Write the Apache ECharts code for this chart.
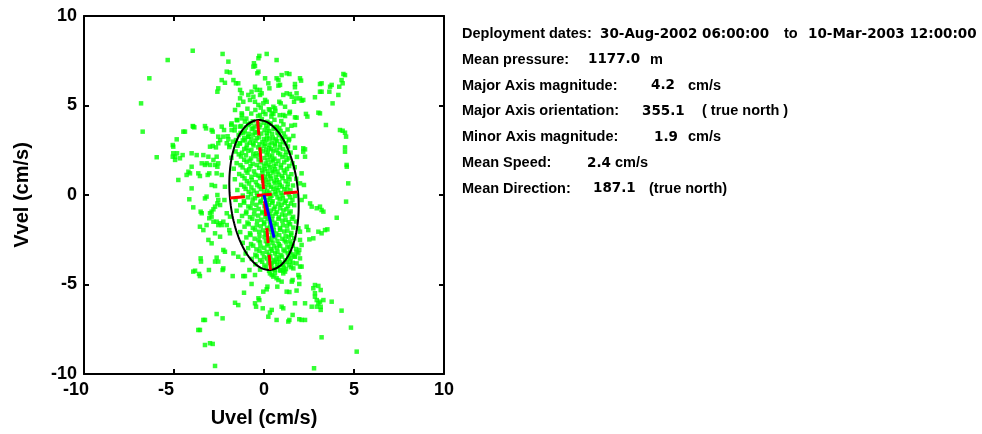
<!DOCTYPE html>
<html><head><meta charset="utf-8">
<script src="https://cdn.jsdelivr.net/npm/echarts@6/dist/echarts.min.js"></script>
<style>html,body{margin:0;padding:0;background:#fff}#c{width:982px;height:434px}</style>
</head><body><div id="c"></div>
<script>
// ---- axis settings ----
const axisMin = -10, axisMax = 10, axisStep = 5;
const xName = 'Uvel (cm/s)';
const yName = 'Vvel (cm/s)';

// ---- ellipse statistics (from the text block) ----
const majorAxis = 4.2;      // cm/s
const minorAxis = 1.9;      // cm/s
const orientationDeg = 355.1; // true north
const meanVector = [0.56, -2.38]; // end of blue mean-velocity line (u, v)

// ---- text block: each line is a list of text pieces ----
const infoLines = [
  ['Deployment dates:', '30-Aug-2002 06:00:00', 'to', '10-Mar-2003 12:00:00'],
  ['Mean pressure:', '1177.0', 'm'],
  ['Major Axis magnitude:', '4.2', 'cm/s'],
  ['Major Axis orientation:', '355.1', '( true north )'],
  ['Minor Axis magnitude:', '1.9', 'cm/s'],
  ['Mean Speed:', '2.4', 'cm/s'],
  ['Mean Direction:', '187.1', '(true north)']
];
// horizontal start (px) of each piece, layout only
const infoPieceX = [
  [462, 600, 784, 808],
  [462, 588, 650],
  [462, 651, 688],
  [462, 642, 702],
  [462, 654, 688],
  [462, 587, 615],
  [462, 593, 649]
];

// ---- velocity samples [u, v] (cm/s) ----
const outerUpper = [
[-3.96,8.06],[-5.35,7.54],[-2.3,7.88],[-6.37,6.52],[-6.83,5.12],[-6.74,3.54],
[-1.98,7.45],[-2.07,6.89],[-1.89,6.85],[-2.35,6.42],[-2.17,6.27],[-1.7,6.42],[-1.56,6.24],[-1.43,6.24],
[-2.54,5.96],[-2.59,5.77],[-1.33,5.87],[-1.24,5.68],[-1.33,5.4],[-1.15,5.21],[-0.87,5.59],[-1.61,4.75],
[-1.43,5.03],[-1.24,4.56],
[-3.87,3.78],[-3.96,3.85],[-3.28,3.85],[-3.22,3.72],[-4.48,3.54],[-4.39,3.54],[-2.85,3.54],[-4.85,3.11],[-5.04,2.7],
[-2.54,2.89],[-3.0,2.7],[-2.85,2.74],[-2.67,2.66],[-2.26,3.26],[-1.98,3.11],[-2.07,2.89],[-1.89,2.79],
[-2.35,3.82],[-2.22,3.63],[-2.54,3.26],[-2.44,3.07],[-2.91,3.63],[-5.07,2.79],[-3.93,3.82],
[-1.8,4.0],[-1.61,3.82],[-1.8,3.63],[-1.52,4.19],[-1.24,4.28],[-1.06,4.1],[-1.33,3.82],[-0.87,3.91],
[-1.15,3.45],[-0.87,3.26],[-1.06,3.07],[-1.33,2.89],[-1.56,3.07],
[0.15,7.88],[-0.26,7.77],[-0.31,7.64],[0.7,7.54],[-0.56,7.36],[-0.59,7.17],[-0.5,7.21],[-0.37,6.8],[-0.31,6.89],[0.06,6.52],
[0.7,6.52],[0.8,6.42],[0.98,6.7],[1.26,6.8],[1.41,6.76],[2.0,6.52],[2.06,6.39],[1.72,6.2],[1.72,6.02],[0.8,6.11],[0.89,6.15],[0.24,6.24],[0.3,5.96],
[1.07,5.59],[1.26,5.68],[1.44,5.64],[1.54,5.49],[1.81,5.68],[1.67,5.21],[1.78,5.4],[2.0,5.4],[2.09,5.27],[2.18,5.31],
[0.85,5.21],[0.93,5.12],[0.52,4.93],[0.61,4.84],[1.17,4.93],[1.44,4.65],[1.41,4.56],[1.07,4.47],[1.17,4.41],[0.43,4.56],[0.52,4.53],
[1.72,4.34],[1.81,4.32],[2.33,4.53],[2.41,4.38],[2.83,5.46],[3.02,4.6],[3.11,4.56],[3.11,6.2],[3.2,6.24],[3.11,5.77],[3.2,5.77],
[3.67,6.05],[3.76,6.15],[3.63,5.77],[3.81,5.12],[4.18,6.05],[4.13,5.59],[4.31,6.42],[4.37,6.24],[4.5,6.7],[4.41,6.76],
[3.44,3.91],[4.22,3.63],[4.37,3.59],[4.5,3.48],[4.56,3.26],[4.5,2.66],[1.72,3.91],[2.18,2.61],[2.28,2.55],
[-0.5,6.05],[-0.69,5.77],[-0.41,5.87],[-0.22,5.87],[-0.13,5.68],[-0.59,5.49],[-0.78,5.31],[-0.5,5.21],[-0.31,5.03],
[-0.04,5.12],[0.15,5.21],[-0.22,5.59],[0.06,5.31],[0.33,4.75],[-0.04,4.65],[-0.22,4.47]
];
const outerMiddle = [
[-5.96,2.11],[-5.04,2.33],[-4.94,2.14],[-4.67,2.05],[-4.52,2.23],[-4.02,2.33],[-4.76,0.84],[-4.2,1.3],[-4.11,1.21],[-4.3,1.12],[-4.02,1.58],[-3.65,1.21],[-3.56,1.06],
[-3.46,1.77],[-3.28,1.68],[-3.19,1.77],[-3.04,1.21],[-3.13,1.12],[-2.72,1.68],[-2.54,1.77],[-2.59,1.58],[-2.63,1.21],[-2.35,1.12],[-2.91,0.56],[-2.72,0.5],
[-4.02,0.37],[-4.15,-0.24],[-3.93,-0.69],[-3.52,-0.93],[-3.46,-1.02],[-3.28,-0.19],[-3.19,-0.09],[-3.04,-1.3],
[-2.91,-0.93],[-2.81,-0.8],[-2.72,-0.65],[-2.59,-0.47],[-2.44,-0.56],[-2.59,0.0],[-2.54,-0.28],[-2.17,0.46],[-2.2,-0.28],
[-2.81,-1.49],[-2.63,-1.49],[-2.44,-1.58],[-2.35,-1.68],[-2.54,-1.68],[-2.26,-1.49],[-2.07,-1.68],[-1.93,-1.96],[-1.89,-2.14],
[-3.74,2.23],[-3.37,2.23],[-3.09,2.14],[-3.0,1.68],[-2.81,1.96],[-2.63,2.14],[-4.83,2.33],[-5.07,2.14],[-4.94,1.96],
[-3.0,-1.02],[-2.91,-1.21],[-2.07,-1.02],[-1.89,-1.21],[-3.56,-1.77],[-3.37,-1.96],[-3.19,-1.68],[-2.72,-2.14],[-2.44,-2.33],
[-3.09,-2.51],[-2.91,-2.7],[-1.7,-3.26],[-1.43,-3.45],[-1.19,-3.63],[-2.26,-3.07],[-2.17,-3.17],[-2.63,-3.5],[-3.52,-3.54],
[2.18,2.42],[2.28,2.14],[2.09,1.21],[2.22,0.56],[2.56,-0.47],[2.65,-0.65],[2.93,-0.74],[3.11,-0.65],[3.2,-0.84],[3.3,-0.93],
[4.5,2.42],[4.59,1.68],[4.68,0.65],[4.56,-0.37],[4.04,-1.27],[2.37,-1.77],[2.46,-1.96],[3.02,-2.05],[3.2,-2.14],[3.39,-1.96],[3.52,-1.92],
[2.74,-2.42],[2.52,-2.48],[1.91,-1.86],[2.0,-2.05],[1.81,-3.17],[1.96,-3.07],[1.72,-3.45],
[2.28,-0.09],[2.09,-0.28],[2.0,-2.51],[2.09,-2.79],[1.91,-3.26],[2.0,-3.54],[2.09,-4.0],[4.6,1.58],[2.0,0.65]
];
const outerLower = [
[-3.5,-3.72],[-2.72,-3.72],[-2.54,-3.72],[-3.83,-4.23],[-3.93,-4.28],[-3.61,-4.41],[-3.56,-4.53],[-3.06,-4.19],[-2.26,-4.1],[-2.3,-4.19],
[-1.74,-4.53],[-1.15,-4.53],[-1.06,-4.53],[-0.81,-4.19],[-1.11,-5.46],[-1.61,-6.02],[-1.43,-6.15],[-2.63,-6.65],[-2.3,-6.89],[-3.37,-6.98],[-3.28,-6.98],
[-3.56,-7.54],[-3.65,-7.54],[-3.28,-8.38],[-3.0,-8.28],[-2.85,-8.32],[-2.72,-9.55],
[-0.5,-4.47],[-0.69,-4.97],[-0.04,-5.4],[0.15,-5.27],[0.19,-5.12],[-0.31,-5.77],[-0.26,-5.87],[-0.5,-6.05],[-0.44,-6.24],[-0.07,-6.33],
[0.43,-4.47],[0.52,-4.56],[0.7,-4.65],[0.61,-4.38],[0.8,-4.75],[0.98,-4.84],[0.74,-5.12],[1.17,-4.28],[1.07,-4.19],[1.59,-4.75],[1.54,-4.84],
[1.91,-4.47],[1.96,-4.6],[1.96,-4.97],[1.81,-5.34],[1.26,-5.4],[1.41,-5.42],[0.98,-6.24],[1.07,-6.33],[0.43,-6.42],[0.33,-6.57],[0.24,-6.8],[0.7,-6.98],
[1.41,-6.98],[1.35,-7.07],[1.59,-6.7],[1.72,-6.05],[1.96,-6.94],[2.09,-6.98],[2.28,-6.98],[2.28,-6.05],
[2.74,-5.21],[2.83,-5.03],[3.02,-5.08],[3.15,-5.31],[2.83,-5.49],[2.83,-5.68],[2.93,-5.87],[3.11,-5.96],[3.3,-5.87],[3.02,-6.05],[3.15,-6.24],[2.93,-6.24],
[2.65,-6.24],[3.15,-6.42],[3.76,-5.96],[4.31,-6.46],[4.83,-7.41],[3.2,-7.95],[5.15,-8.75],[2.78,-9.68],
[0.43,-3.82],[0.7,-3.72],[1.07,-3.91],[1.44,-3.72],[1.63,-4.1],[2.0,-4.0],[1.81,-3.82],[0.89,-4.19],[1.07,-4.38],[0.61,-4.19],[0.33,-4.38]
];
const coreSamples = [
[-0.92,4.82],[-0.48,4.75],[-0.18,4.88],[0.27,4.79],[0.63,4.7],
[-1.22,4.48],[-0.71,4.55],[-0.33,4.41],[0.08,4.52],[0.41,4.38],[0.87,4.46],
[-1.48,4.18],[-0.98,4.27],[-0.62,4.12],[-0.12,4.23],[0.19,4.09],[0.58,4.2],[0.96,4.13],
[-1.82,3.92],[-1.27,3.85],[-0.83,3.97],[-0.52,3.83],[-0.21,3.93],[0.12,3.86],[0.38,3.98],[0.71,3.81],[1.08,3.94],[1.52,3.87],
[-1.63,3.61],[-1.07,3.55],[-0.68,3.68],[-0.41,3.52],[0.03,3.63],[0.29,3.57],[0.53,3.7],[0.92,3.58],[1.31,3.66],
[-2.02,3.28],[-1.41,3.35],[-0.88,3.24],[-0.61,3.37],[-0.28,3.22],[0.17,3.31],[0.49,3.19],[0.82,3.34],[1.18,3.25],[1.63,3.3],
[-1.72,2.98],[-1.18,3.05],[-0.79,2.92],[-0.47,3.03],[-0.09,2.95],[0.14,3.08],[0.42,2.93],[0.73,3.02],[1.04,2.96],[1.38,3.06],
[-1.93,2.68],[-1.47,2.75],[-0.97,2.63],[-0.58,2.77],[-0.32,2.66],[0.02,2.73],[0.28,2.62],[0.61,2.76],[0.88,2.65],[1.33,2.71],[1.72,2.64],
[-1.58,2.43],[-1.22,2.36],[-0.87,2.47],[-0.42,2.33],[-0.07,2.44],[0.21,2.38],[0.52,2.46],[0.79,2.35],[1.23,2.42],[1.48,2.37],
[-1.81,2.08],[-1.28,2.15],[-0.72,2.04],[-0.48,2.17],[0.03,2.06],[0.31,2.14],[0.58,2.03],[1.02,2.12],[1.39,2.05],[1.83,2.13],
[-1.52,1.78],[-0.97,1.85],[-0.63,1.74],[-0.18,1.83],[0.09,1.76],[0.42,1.87],[0.68,1.73],[1.12,1.82],[1.58,1.77],
[-1.68,1.47],[-1.19,1.54],[-0.82,1.43],[-0.27,1.52],[0.04,1.45],[0.33,1.56],[0.62,1.44],[0.93,1.53],[1.28,1.46],[1.71,1.55],
[-1.38,1.17],[-0.92,1.24],[-0.48,1.13],[-0.08,1.22],[0.23,1.15],[0.52,1.26],[0.81,1.14],[1.18,1.23],[1.52,1.16],
[-1.62,0.88],[-1.08,0.93],[-0.68,0.84],[-0.22,0.95],[0.12,0.86],[0.38,0.92],[0.72,0.83],[1.03,0.94],[1.42,0.87],[1.79,0.91],
[-1.27,0.57],[-0.83,0.64],[-0.38,0.55],[0.02,0.63],[0.27,0.54],[0.63,0.66],[0.88,0.56],[1.32,0.62],[1.61,0.53],
[-1.48,0.28],[-1.02,0.34],[-0.58,0.25],[-0.17,0.33],[0.18,0.24],[0.52,0.35],[0.78,0.27],[1.13,0.32],[1.47,0.26],
[-1.18,-0.03],[-0.72,0.04],[-0.37,-0.05],[0.12,0.03],[0.42,-0.04],[0.68,0.05],[1.02,-0.02],[1.38,0.04],[1.72,-0.05],
[-1.58,-0.27],[-1.12,-0.34],[-0.63,-0.25],[-0.18,-0.33],[0.22,-0.26],[0.48,-0.35],[0.87,-0.24],[1.22,-0.32],[1.58,-0.28],
[-1.32,-0.57],[-0.87,-0.64],[-0.42,-0.55],[0.03,-0.63],[0.28,-0.56],[0.62,-0.65],[0.98,-0.54],[1.33,-0.62],[1.68,-0.57],
[-1.52,-0.88],[-0.98,-0.93],[-0.53,-0.85],[-0.08,-0.94],[0.38,-0.87],[0.72,-0.95],[1.08,-0.86],[1.48,-0.92],
[-1.22,-1.17],[-0.78,-1.24],[-0.32,-1.15],[0.08,-1.23],[0.47,-1.16],[0.83,-1.25],[1.18,-1.14],[1.62,-1.22],
[-1.38,-1.47],[-0.92,-1.54],[-0.38,-1.45],[0.02,-1.53],[0.32,-1.46],[0.58,-1.55],[1.02,-1.44],[1.37,-1.52],[1.78,-1.48],
[-1.08,-1.77],[-0.62,-1.84],[-0.18,-1.75],[0.17,-1.83],[0.52,-1.76],[0.88,-1.85],[1.28,-1.74],[1.63,-1.82],
[-1.32,-2.07],[-0.78,-2.14],[-0.27,-2.05],[0.08,-2.13],[0.42,-2.06],[0.68,-2.15],[1.12,-2.04],[1.52,-2.12],
[-0.98,-2.37],[-0.52,-2.44],[0.03,-2.35],[0.28,-2.43],[0.62,-2.36],[1.02,-2.45],[1.38,-2.34],[1.68,-2.42],
[-1.18,-2.67],[-0.72,-2.74],[-0.22,-2.65],[0.18,-2.73],[0.48,-2.66],[0.82,-2.75],[1.22,-2.64],[1.52,-2.72],
[-0.88,-2.97],[-0.42,-3.04],[0.02,-2.95],[0.38,-3.03],[0.72,-2.96],[1.08,-3.05],[1.42,-2.94],[1.78,-3.02],
[-1.02,-3.27],[-0.48,-3.34],[-0.08,-3.25],[0.28,-3.33],[0.62,-3.26],[0.92,-3.35],[1.32,-3.24],[1.58,-3.32],
[-0.68,-3.57],[-0.22,-3.64],[0.18,-3.55],[0.52,-3.63],[0.82,-3.56],[1.18,-3.65],[1.48,-3.54],
[-0.48,-3.87],[0.02,-3.94],[0.38,-3.85],[0.72,-3.93],[1.02,-3.86],[1.38,-3.92],
[-0.22,-4.17],[0.28,-4.24],[0.58,-4.15],[0.92,-4.23],[1.22,-4.14]
];
const coreDense = [
[-0.75,4.02],[-0.35,3.97],[0.0,4.04],[0.3,3.99],
[-1.0,3.77],[-0.6,3.72],[-0.25,3.78],[0.2,3.73],[0.6,3.79],[0.85,3.74],
[-1.3,3.47],[-0.85,3.42],[-0.5,3.48],[-0.15,3.43],[0.15,3.47],[0.45,3.42],[0.75,3.48],[1.1,3.44],
[-1.1,3.17],[-0.7,3.12],[-0.4,3.18],[0.0,3.13],[0.3,3.16],[0.65,3.11],[1.0,3.17],[1.4,3.13],
[-1.35,2.87],[-0.95,2.82],[-0.6,2.88],[-0.25,2.83],[0.05,2.86],[0.3,2.81],[0.6,2.87],[0.9,2.83],[1.2,2.88],
[-1.1,2.57],[-0.7,2.52],[-0.2,2.58],[0.12,2.53],[0.4,2.56],[0.7,2.51],[1.05,2.57],
[-1.4,2.27],[-1.0,2.22],[-0.6,2.28],[-0.25,2.23],[0.15,2.26],[0.45,2.21],[0.9,2.27],[1.2,2.22],
[-1.1,1.97],[-0.8,1.92],[-0.3,1.98],[0.2,1.93],[0.5,1.96],[0.8,1.91],[1.25,1.97],
[-1.3,1.67],[-0.75,1.62],[-0.4,1.68],[0.0,1.63],[0.25,1.66],[0.55,1.61],[0.95,1.67],[1.4,1.62],
[-1.0,1.37],[-0.55,1.32],[-0.1,1.38],[0.2,1.33],[0.45,1.36],[0.75,1.31],[1.1,1.37],
[-1.2,1.07],[-0.7,1.02],[-0.3,1.08],[0.05,1.03],[0.35,1.06],[0.65,1.01],[1.0,1.07],[1.35,1.02],
[-0.95,0.77],[-0.45,0.72],[-0.05,0.78],[0.25,0.73],[0.55,0.76],[0.85,0.71],[1.2,0.77],
[-1.1,0.47],[-0.7,0.42],[-0.25,0.48],[0.05,0.43],[0.4,0.46],[0.7,0.41],[1.0,0.47],[1.3,0.42],
[-0.85,0.17],[-0.4,0.12],[0.0,0.18],[0.3,0.13],[0.6,0.16],[0.95,0.11],[1.25,0.17],
[-0.9,-0.13],[-0.5,-0.18],[-0.05,-0.12],[0.35,-0.17],[0.75,-0.14],[1.05,-0.19],[1.45,-0.13],
[-1.1,-0.43],[-0.65,-0.48],[-0.2,-0.42],[0.15,-0.47],[0.45,-0.44],[0.8,-0.49],[1.15,-0.43],[1.5,-0.48],
[-0.75,-0.73],[-0.3,-0.78],[0.15,-0.72],[0.55,-0.77],[0.9,-0.74],[1.25,-0.79],
[-1.0,-1.03],[-0.55,-1.08],[-0.1,-1.02],[0.3,-1.07],[0.65,-1.04],[1.0,-1.09],[1.4,-1.03],
[-0.65,-1.33],[-0.15,-1.38],[0.2,-1.32],[0.45,-1.37],[0.8,-1.34],[1.2,-1.39],[1.55,-1.33],
[-0.85,-1.63],[-0.4,-1.68],[0.0,-1.62],[0.35,-1.67],[0.7,-1.64],[1.05,-1.69],[1.45,-1.63],
[-0.5,-1.93],[-0.05,-1.98],[0.3,-1.92],[0.55,-1.97],[0.9,-1.94],[1.3,-1.99],
[-0.75,-2.23],[-0.25,-2.28],[0.15,-2.22],[0.45,-2.27],[0.85,-2.24],[1.2,-2.29],[1.5,-2.23],
[-0.3,-2.53],[0.1,-2.58],[0.4,-2.52],[0.75,-2.57],[1.15,-2.54],[1.45,-2.59],
[-0.6,-2.83],[-0.2,-2.88],[0.25,-2.82],[0.55,-2.87],[0.9,-2.84],[1.3,-2.89],[1.6,-2.83],
[-0.25,-3.13],[0.15,-3.18],[0.45,-3.12],[0.75,-3.17],[1.15,-3.14],[1.45,-3.19],
[-0.4,-3.43],[0.0,-3.48],[0.35,-3.42],[0.7,-3.47],[1.0,-3.44],[1.35,-3.49],[1.7,-3.43],
[-0.1,-3.73],[0.25,-3.78],[0.6,-3.72],[0.9,-3.77],[1.25,-3.74],[1.6,-3.79],
[0.1,-4.03],[0.45,-4.08],[0.8,-4.02],[1.1,-4.07],[1.5,-4.03]
];

// ---- geometry derived from ellipse statistics ----
const th = orientationDeg * Math.PI / 180;
const majDir = [Math.sin(th), Math.cos(th)];
const minDir = [Math.cos(th), -Math.sin(th)];
const ellipse = [];
for (let k = 0; k <= 180; k++) {
  const t = k / 180 * 2 * Math.PI;
  const a = majorAxis * Math.cos(t), b = minorAxis * Math.sin(t);
  ellipse.push([a * majDir[0] + b * minDir[0], a * majDir[1] + b * minDir[1]]);
}
const majorLine = [[-majorAxis * majDir[0], -majorAxis * majDir[1]], [majorAxis * majDir[0], majorAxis * majDir[1]]];
const minorLine = [[-minorAxis * minDir[0], -minorAxis * minDir[1]], [minorAxis * minDir[0], minorAxis * minDir[1]]];

const FONT = 'Liberation Sans';
const chart = echarts.init(document.getElementById('c'), null, {renderer: 'canvas'});
const tickLabel = {fontSize: 18, fontWeight: 'bold', color: '#000', fontFamily: FONT};
const axisBase = {
  type: 'value', min: axisMin, max: axisMax, interval: axisStep,
  axisLine: {show: true, onZero: false, lineStyle: {color: '#000', width: 2}},
  axisTick: {show: true, inside: true, length: 5, lineStyle: {color: '#000', width: 2}},
  splitLine: {show: false}
};
const textEls = [];
infoLines.forEach((pieces, i) => {
  pieces.forEach((t, j) => {
    const numeric = /\d/.test(t);
    textEls.push({
      type: 'text', x: infoPieceX[i][j], y: 34 + i * 25.8, silent: true,
      style: {
        text: t,
        font: numeric ? 'bold 13.5px "DejaVu Sans"' : 'bold 14.5px "' + FONT + '"',
        fill: '#000', verticalAlign: 'middle'
      }
    });
  });
});
chart.setOption({
  animation: false,
  backgroundColor: '#fff',
  grid: {left: 84, top: 16, width: 360, height: 358, containLabel: false},
  xAxis: [
    Object.assign({}, axisBase, {position: 'bottom', name: xName, nameLocation: 'middle', nameGap: 34,
      nameTextStyle: {fontSize: 20, fontWeight: 'bold', color: '#000', fontFamily: FONT},
      axisLabel: Object.assign({margin: 7,
        formatter: v => v < 0 ? '{n|' + v + '}{p|}' : '{n|' + v + '}',
        rich: {n: Object.assign({}, tickLabel), p: {width: 16}}
      }, tickLabel)}),
    Object.assign({}, axisBase, {position: 'top', axisLabel: {show: false}})
  ],
  yAxis: [
    Object.assign({}, axisBase, {position: 'left', name: yName, nameLocation: 'middle', nameGap: 52,
      nameTextStyle: {fontSize: 20, fontWeight: 'bold', color: '#000', fontFamily: FONT},
      axisLabel: Object.assign({margin: 7}, tickLabel)}),
    Object.assign({}, axisBase, {position: 'right', axisLabel: {show: false}})
  ],
  series: [
    {type: 'scatter', data: outerUpper.concat(outerMiddle, outerLower, coreSamples, coreDense),
     symbol: 'rect', symbolSize: 4.5, itemStyle: {color: '#00ff00'}, silent: true},
    {type: 'line', data: ellipse, showSymbol: false, lineStyle: {color: '#000', width: 2}, silent: true},
    {type: 'line', data: majorLine, showSymbol: false, lineStyle: {color: '#ff0000', width: 3, type: [15, 12]}, silent: true},
    {type: 'line', data: minorLine, showSymbol: false, lineStyle: {color: '#ff0000', width: 3, type: [15, 12]}, silent: true},
    {type: 'line', data: [[0, 0], meanVector], showSymbol: false, lineStyle: {color: '#0000ff', width: 3}, silent: true}
  ],
  graphic: textEls
});
</script>
</body></html>
